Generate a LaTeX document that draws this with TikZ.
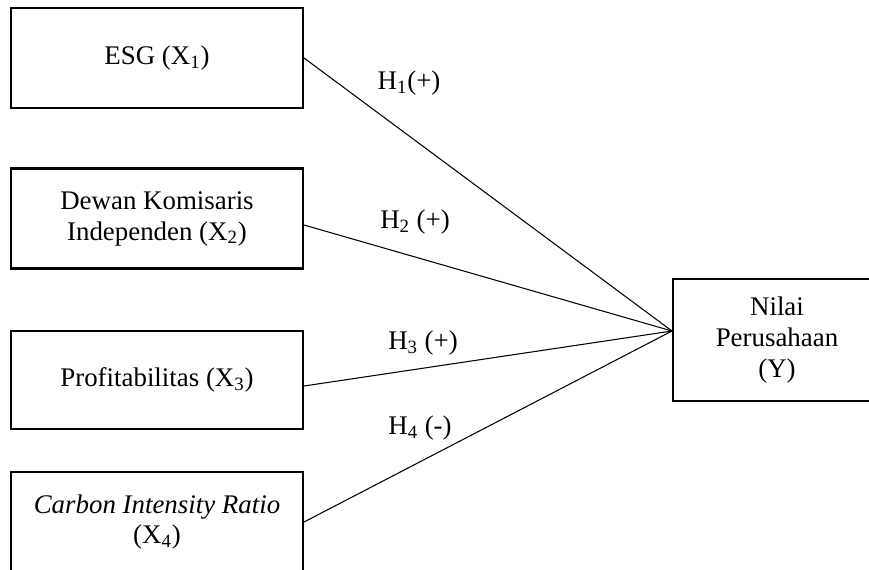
\documentclass[tikz,border=0pt]{standalone}
\usepackage{fontspec}
\setmainfont{Liberation Serif}
\usetikzlibrary{positioning}
\tikzset{
varbox/.style={
  draw, line width=1.2pt, minimum width=5.84cm, minimum height=2cm,
  align=center, font=\fontsize{15.3}{17.6}\selectfont},
hyp/.style={font=\fontsize{15.3}{17.6}\selectfont},
link/.style={line width=0.6pt}
}

\begin{document}
\begin{tikzpicture}[x=0.02cm,y=-0.02cm]
\clip (0,0) rectangle (869,569);
\node [varbox](esg) at (157,58){ESG (X\textsubscript{1})};
\node [varbox](dki) at (157,218.5){Dewan Komisaris\\Independen (X\textsubscript{2})};
\node [varbox, minimum height=1.96cm](prof) at (157,380){Profitabilitas (X\textsubscript{3})};
\node [varbox](cir) at (157,522){\textit{Carbon Intensity Ratio}\\(X\textsubscript{4})};
\node [varbox, minimum width=4.16cm, minimum height=2.44cm](nilai) at (777,340){Nilai\\Perusahaan\\(Y)};

\coordinate (hub) at ([yshift=0.18cm]nilai.west);

\draw[link] (esg.east) -- (hub);
\draw[link] ([yshift=-0.13cm]dki.east) -- (hub);
\draw[link] ([yshift=-0.12cm]prof.east) -- (hub);
\draw[link] (cir.east) -- (hub);

%\node[below=10pt of hub]{};
\node[hyp](h1) at (409,83){H\textsubscript{1}(+)};
\node[hyp](h2) at (415,222){H\textsubscript{2} (+)};
\node[hyp](h3) at (423,343){H\textsubscript{3} (+)};
\node[hyp](h4) at (420,428){H\textsubscript{4} (-)};
\end{tikzpicture}
\end{document}
